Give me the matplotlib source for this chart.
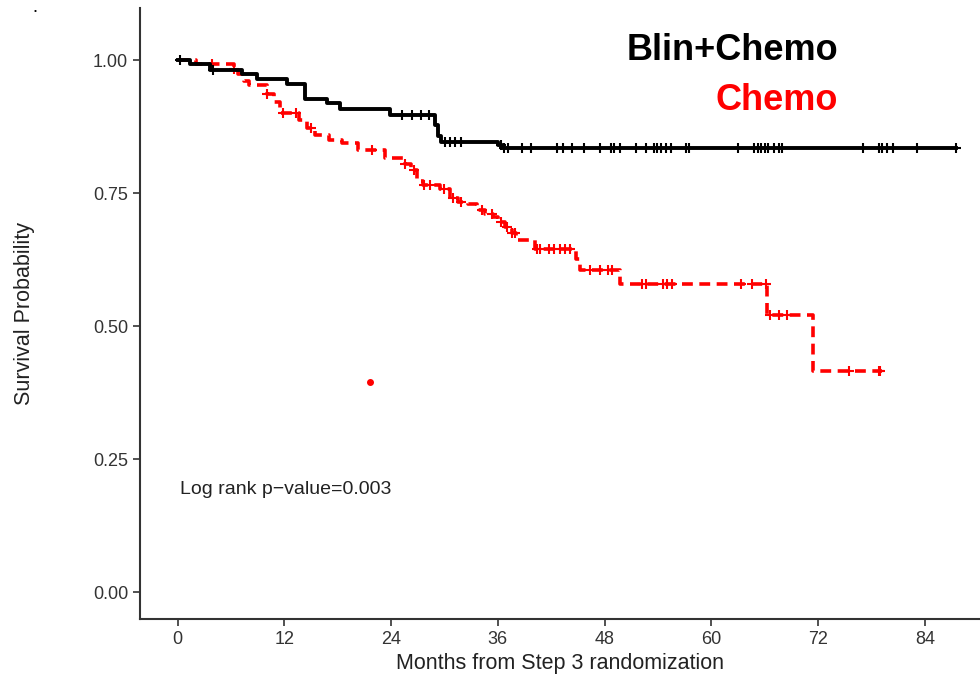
import numpy as np
import matplotlib
matplotlib.use("Agg")
import matplotlib.pyplot as plt

plt.rcParams['font.family'] = ['Liberation Sans', 'DejaVu Sans']

# Blin+Chemo arm (Kaplan-Meier steps)
blin_t = [0, 1.4, 3.6, 7.2, 8.9, 12.3, 14.3, 16.8, 18.3, 23.9, 28.9, 29.3, 29.6, 36.0, 36.5, 87.5]
blin_s = [1.0, 0.9925, 0.982, 0.975, 0.964, 0.956, 0.928, 0.919, 0.909, 0.898, 0.878, 0.858, 0.846, 0.840, 0.835, 0.835]
blin_cens = [0.3, 4.0, 25.2, 26.3, 27.4, 28.3, 30.0, 30.6, 31.2, 31.8, 36.3, 36.7, 37.1, 38.7, 39.7,
             42.7, 43.3, 44.3, 45.7, 47.5, 48.7, 49.1, 49.7, 51.5, 52.7, 53.5, 53.9, 54.3, 54.9,
             55.5, 57.1, 57.5, 63.0, 64.8, 65.2, 65.6, 66.0, 66.4, 67.0, 67.6, 68.0, 77.0, 78.8,
             79.2, 79.8, 80.4, 83.1, 87.5]

# Chemo arm
chemo_t = [0, 2.0, 6.3, 6.8, 7.4, 8.0, 10.0, 10.8, 11.5, 13.6, 14.5, 15.4, 17.0, 18.5, 20.3, 23.3,
           25.5, 26.2, 26.9, 27.6, 29.5, 30.6, 31.5, 32.6, 33.6, 34.5, 35.4, 36.0, 36.8, 37.6, 38.0,
           40.2, 44.8, 45.2, 49.7, 66.3, 71.4, 79.2]
chemo_s = [1.0, 0.9925, 0.984, 0.975, 0.962, 0.953, 0.937, 0.922, 0.90, 0.887, 0.872, 0.859, 0.85,
           0.845, 0.831, 0.816, 0.806, 0.793, 0.774, 0.765, 0.759, 0.742, 0.734, 0.729, 0.718, 0.712,
           0.706, 0.696, 0.687, 0.675, 0.662, 0.646, 0.627, 0.605, 0.580, 0.521, 0.417, 0.417]
chemo_cens = [3.8, 6.3, 10.0, 11.8, 13.3, 15.0, 21.8, 25.5, 26.6, 27.7, 28.4, 29.9, 31.0, 31.8,
              34.2, 35.3, 36.3, 37.0, 37.6, 37.9, 40.4, 40.7, 41.7, 42.3, 43.0, 43.6, 44.1, 46.4,
              47.5, 48.4, 48.8, 52.2, 52.6, 54.6, 55.0, 55.6, 63.3, 64.6, 66.1, 66.6, 67.6, 68.5,
              75.5, 78.8, 79.0]

stray_x, stray_y = [21.6], [0.395]

xticks = [0, 12, 24, 36, 48, 60, 72, 84]
yticks = [0.00, 0.25, 0.50, 0.75, 1.00]


def surv_at(times, surv, pts):
    idx = np.searchsorted(times, pts, side='right') - 1
    return np.array(surv)[idx]


fig = plt.figure(figsize=(9.8, 6.78), dpi=100)
ax = fig.add_axes([0.1429, 0.087, 0.857, 0.901])

ax.step(chemo_t, chemo_s, where='post', color='#ff0000', lw=2.6, dashes=(3, 1.8))
ax.plot(chemo_cens, surv_at(chemo_t, chemo_s, chemo_cens), ls='none', marker='+',
        ms=7, mew=1.5, color='#ff0000')
ax.step(blin_t, blin_s, where='post', color='black', lw=2.8)
ax.plot(blin_cens, surv_at(blin_t, blin_s, blin_cens), ls='none', marker='+',
        ms=7, mew=1.5, color='black')
ax.plot(stray_x, stray_y, ls='none', marker='o', ms=4, color='#ff0000')

ax.set_xlim(-4.24, 90.2)
ax.set_ylim(-0.05, 1.098)
ax.set_xticks(xticks)
ax.set_yticks(yticks)
ax.set_yticklabels(['%.2f' % v for v in yticks])
ax.tick_params(labelsize=13, colors='#333333', length=5, width=1.2)
for s in ['top', 'right']:
    ax.spines[s].set_visible(False)
for s in ['left', 'bottom']:
    ax.spines[s].set_color('#333333')
    ax.spines[s].set_linewidth(1.5)

ax.set_xlabel('Months from Step 3 randomization', fontsize=15.5, color='#222222', labelpad=4)
ax.set_ylabel('Survival Probability', fontsize=15.5, color='#222222', labelpad=42)

ax.text(0.2, 0.194, 'Log rank p\u2212value=0.003', fontsize=14, color='#222222', va='center')

fig.text(838 / 980, 1 - 50 / 678, 'Blin+Chemo', fontsize=26, fontweight='bold',
         color='black', ha='right', va='center')
fig.text(838 / 980, 1 - 100 / 678, 'Chemo', fontsize=26, fontweight='bold',
         color='#ff0000', ha='right', va='center')
fig.text(35 / 980, 1 - 12 / 678, '\u2022', fontsize=6, color='black', ha='center', va='center')

fig.savefig('out.png', dpi=100)
